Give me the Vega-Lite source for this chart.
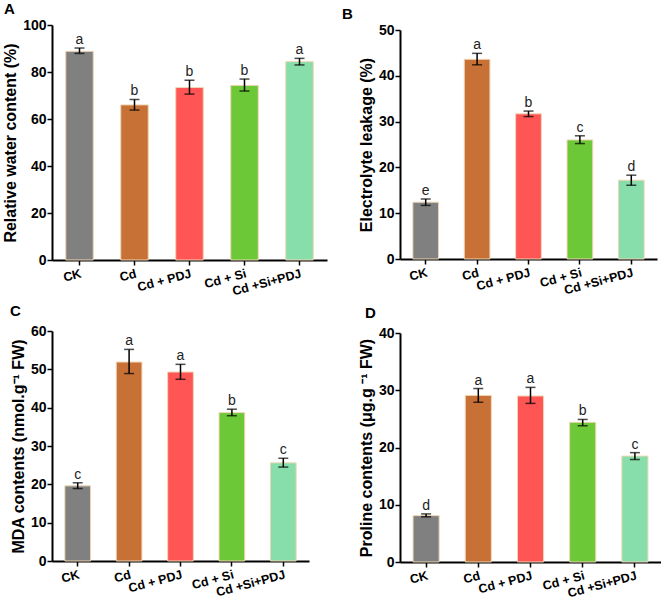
{
  "$schema": "https://vega.github.io/schema/vega-lite/v6.json",
  "padding": {"left": 2, "top": 2, "right": 0, "bottom": 0},
  "columns": 1,
  "spacing": 6,
  "datasets": {
    "d": [
      {"panel": "A", "trt": "CK", "mean": 88.8, "lo": 87.9, "hi": 90.2, "let": "a"},
      {"panel": "A", "trt": "Cd", "mean": 66.0, "lo": 63.8, "hi": 68.3, "let": "b"},
      {"panel": "A", "trt": "Cd + PDJ", "mean": 73.4, "lo": 70.6, "hi": 76.5, "let": "b"},
      {"panel": "A", "trt": "Cd + Si", "mean": 74.3, "lo": 71.9, "hi": 77.0, "let": "b"},
      {"panel": "A", "trt": "Cd +Si+PDJ", "mean": 84.4, "lo": 83.0, "hi": 85.8, "let": "a"},
      {"panel": "B", "trt": "CK", "mean": 12.4, "lo": 11.7, "hi": 13.1, "let": "e"},
      {"panel": "B", "trt": "Cd", "mean": 43.6, "lo": 42.4, "hi": 44.9, "let": "a"},
      {"panel": "B", "trt": "Cd + PDJ", "mean": 31.7, "lo": 31.1, "hi": 32.3, "let": "b"},
      {"panel": "B", "trt": "Cd + Si", "mean": 26.0, "lo": 25.2, "hi": 26.9, "let": "c"},
      {"panel": "B", "trt": "Cd +Si+PDJ", "mean": 17.2, "lo": 16.1, "hi": 18.3, "let": "d"},
      {"panel": "C", "trt": "CK", "mean": 19.6, "lo": 18.9, "hi": 20.4, "let": "c"},
      {"panel": "C", "trt": "Cd", "mean": 51.9, "lo": 48.9, "hi": 55.2, "let": "a"},
      {"panel": "C", "trt": "Cd + PDJ", "mean": 49.3, "lo": 47.4, "hi": 51.3, "let": "a"},
      {"panel": "C", "trt": "Cd + Si", "mean": 38.7, "lo": 37.9, "hi": 39.6, "let": "b"},
      {"panel": "C", "trt": "Cd +Si+PDJ", "mean": 25.6, "lo": 24.5, "hi": 26.8, "let": "c"},
      {"panel": "D", "trt": "CK", "mean": 8.1, "lo": 7.9, "hi": 8.4, "let": "d"},
      {"panel": "D", "trt": "Cd", "mean": 29.1, "lo": 27.9, "hi": 30.3, "let": "a"},
      {"panel": "D", "trt": "Cd + PDJ", "mean": 29.0, "lo": 27.7, "hi": 30.5, "let": "a"},
      {"panel": "D", "trt": "Cd + Si", "mean": 24.4, "lo": 23.8, "hi": 24.9, "let": "b"},
      {"panel": "D", "trt": "Cd +Si+PDJ", "mean": 18.5, "lo": 17.9, "hi": 19.1, "let": "c"}
    ]
  },
  "config": {
    "view": {"stroke": null},
    "font": "Liberation Sans",
    "axis": {
      "grid": false,
      "domainColor": "black", "domainWidth": 2,
      "tickColor": "black", "tickWidth": 1.5, "tickSize": 5,
      "labelFont": "Liberation Sans", "labelFontWeight": "bold", "labelFontSize": 14, "labelColor": "black",
      "titleFont": "Liberation Sans", "titleFontWeight": "bold", "titleFontSize": 16, "titleColor": "black",
      "labelPadding": 1, "titlePadding": 4, "labelOverlap": false
    },
    "axisX": {"labelAngle": -15, "labelAlign": "right", "labelBaseline": "top", "labelPadding": 2, "labelFontSize": 12.5},
    "title": {"anchor": "start", "frame": "group", "fontSize": 15, "fontWeight": "bold", "font": "Liberation Sans", "color": "black", "offset": 1},
    "bar": {"stroke": "#f0d6b4", "strokeWidth": 1},
    "tick": {"color": "black", "thickness": 1.5, "size": 10},
    "rule": {"color": "black", "strokeWidth": 1.5},
    "text": {"fontSize": 14, "color": "#222", "baseline": "bottom", "dy": -1}
  },
  "resolve": {"scale": {"color": "shared"}},
  "concat": [
    {
      "columns": 2,
      "align": "none",
      "spacing": 15,
      "concat": [
        {
          "title": {"text": "A", "dx": -48, "offset": 1},
          "width": 275, "height": 235,
          "data": {"name": "d"},
          "transform": [{"filter": "datum.panel == 'A'"}],
          "encoding": {"x": {"field": "trt", "type": "nominal", "sort": null, "scale": {"paddingInner": 0.5, "paddingOuter": 0.25}, "axis": {"title": null}}},
          "layer": [
            {"mark": "bar", "encoding": {
              "y": {"field": "mean", "type": "quantitative", "scale": {"domain": [0, 100], "nice": false}, "axis": {"title": "Relative water content (%)", "values": [0, 20, 40, 60, 80, 100]}},
              "color": {"field": "trt", "type": "nominal", "sort": null, "legend": null, "scale": {"domain": ["CK", "Cd", "Cd + PDJ", "Cd + Si", "Cd +Si+PDJ"], "range": ["#808080", "#c87137", "#ff5555", "#6cc837", "#87deaa"]}}
            }},
            {"mark": "rule", "encoding": {"y": {"field": "lo", "type": "quantitative", "axis": {"title": "Relative water content (%)", "values": [0, 20, 40, 60, 80, 100]}}, "y2": {"field": "hi"}}},
            {"mark": "tick", "encoding": {"y": {"field": "lo", "type": "quantitative", "axis": {"title": "Relative water content (%)", "values": [0, 20, 40, 60, 80, 100]}}}},
            {"mark": "tick", "encoding": {"y": {"field": "hi", "type": "quantitative", "axis": {"title": "Relative water content (%)", "values": [0, 20, 40, 60, 80, 100]}}}},
            {"mark": "text", "encoding": {"y": {"field": "hi", "type": "quantitative", "axis": {"title": "Relative water content (%)", "values": [0, 20, 40, 60, 80, 100]}}, "text": {"field": "let"}}}
          ]
        },
        {
          "title": {"text": "B", "dx": -58, "offset": 1},
          "width": 257, "height": 234,
          "data": {"name": "d"},
          "transform": [{"filter": "datum.panel == 'B'"}],
          "encoding": {"x": {"field": "trt", "type": "nominal", "sort": null, "scale": {"paddingInner": 0.5, "paddingOuter": 0.25}, "axis": {"title": null}}},
          "layer": [
            {"mark": "bar", "encoding": {
              "y": {"field": "mean", "type": "quantitative", "scale": {"domain": [0, 50], "nice": false, "range": [234, 5]}, "axis": {"title": "Electrolyte leakage (%)", "values": [0, 10, 20, 30, 40, 50]}},
              "color": {"field": "trt", "type": "nominal", "sort": null, "legend": null}
            }},
            {"mark": "rule", "encoding": {"y": {"field": "lo", "type": "quantitative", "axis": {"title": "Electrolyte leakage (%)", "values": [0, 10, 20, 30, 40, 50]}}, "y2": {"field": "hi"}}},
            {"mark": "tick", "encoding": {"y": {"field": "lo", "type": "quantitative", "axis": {"title": "Electrolyte leakage (%)", "values": [0, 10, 20, 30, 40, 50]}}}},
            {"mark": "tick", "encoding": {"y": {"field": "hi", "type": "quantitative", "axis": {"title": "Electrolyte leakage (%)", "values": [0, 10, 20, 30, 40, 50]}}}},
            {"mark": "text", "encoding": {"y": {"field": "hi", "type": "quantitative", "axis": {"title": "Electrolyte leakage (%)", "values": [0, 10, 20, 30, 40, 50]}}, "text": {"field": "let"}}}
          ]
        }
      ]
    },
    {
      "columns": 2,
      "align": "none",
      "spacing": 49,
      "concat": [
        {
          "title": {"text": "C", "dx": -42, "offset": 5},
          "width": 257, "height": 230,
          "data": {"name": "d"},
          "transform": [{"filter": "datum.panel == 'C'"}],
          "encoding": {"x": {"field": "trt", "type": "nominal", "sort": null, "scale": {"paddingInner": 0.5, "paddingOuter": 0.25}, "axis": {"title": null}}},
          "layer": [
            {"mark": "bar", "encoding": {
              "y": {"field": "mean", "type": "quantitative", "scale": {"domain": [0, 60], "nice": false}, "axis": {"title": "MDA contents (nmol.g⁻¹ FW)", "values": [0, 10, 20, 30, 40, 50, 60]}},
              "color": {"field": "trt", "type": "nominal", "sort": null, "legend": null}
            }},
            {"mark": "rule", "encoding": {"y": {"field": "lo", "type": "quantitative", "axis": {"title": "MDA contents (nmol.g⁻¹ FW)", "values": [0, 10, 20, 30, 40, 50, 60]}}, "y2": {"field": "hi"}}},
            {"mark": "tick", "encoding": {"y": {"field": "lo", "type": "quantitative", "axis": {"title": "MDA contents (nmol.g⁻¹ FW)", "values": [0, 10, 20, 30, 40, 50, 60]}}}},
            {"mark": "tick", "encoding": {"y": {"field": "hi", "type": "quantitative", "axis": {"title": "MDA contents (nmol.g⁻¹ FW)", "values": [0, 10, 20, 30, 40, 50, 60]}}}},
            {"mark": "text", "encoding": {"y": {"field": "hi", "type": "quantitative", "axis": {"title": "MDA contents (nmol.g⁻¹ FW)", "values": [0, 10, 20, 30, 40, 50, 60]}}, "text": {"field": "let"}}}
          ]
        },
        {
          "title": {"text": "D", "dx": -35, "offset": 5},
          "width": 261, "height": 231,
          "data": {"name": "d"},
          "transform": [{"filter": "datum.panel == 'D'"}],
          "encoding": {"x": {"field": "trt", "type": "nominal", "sort": null, "scale": {"paddingInner": 0.5, "paddingOuter": 0.25}, "axis": {"title": null}}},
          "layer": [
            {"mark": "bar", "encoding": {
              "y": {"field": "mean", "type": "quantitative", "scale": {"domain": [0, 40], "nice": false, "range": [231, 2]}, "axis": {"title": "Proline contents (μg.g ⁻¹ FW)", "values": [0, 10, 20, 30, 40]}},
              "color": {"field": "trt", "type": "nominal", "sort": null, "legend": null}
            }},
            {"mark": "rule", "encoding": {"y": {"field": "lo", "type": "quantitative", "axis": {"title": "Proline contents (μg.g ⁻¹ FW)", "values": [0, 10, 20, 30, 40]}}, "y2": {"field": "hi"}}},
            {"mark": "tick", "encoding": {"y": {"field": "lo", "type": "quantitative", "axis": {"title": "Proline contents (μg.g ⁻¹ FW)", "values": [0, 10, 20, 30, 40]}}}},
            {"mark": "tick", "encoding": {"y": {"field": "hi", "type": "quantitative", "axis": {"title": "Proline contents (μg.g ⁻¹ FW)", "values": [0, 10, 20, 30, 40]}}}},
            {"mark": "text", "encoding": {"y": {"field": "hi", "type": "quantitative", "axis": {"title": "Proline contents (μg.g ⁻¹ FW)", "values": [0, 10, 20, 30, 40]}}, "text": {"field": "let"}}}
          ]
        }
      ]
    }
  ]
}
